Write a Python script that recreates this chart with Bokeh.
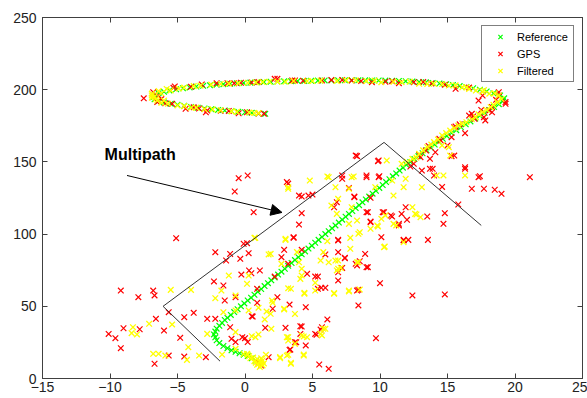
from bokeh.plotting import figure
from bokeh.models import LinearAxis, Label, Arrow, NormalHead, FixedTicker, Legend
from bokeh.embed import file_html
from bokeh.resources import INLINE

# ---------------- data ----------------
x_ticks = [-15, -10, -5, 0, 5, 10, 15, 20, 25]
y_ticks = [0, 50, 100, 150, 200, 250]

ref_x = [1.1, 0.8, 0.5, 0.2, -0.1, -0.4, -0.7, -1.0, -1.3, -1.6, -1.9, -2.1, -2.2, -2.3, -2.2, -2.1, -1.9, -1.7, -1.5,
         -1.3, -1.05, -0.8, -0.55, -0.3, -0.05, 0.2, 0.45, 0.7, 0.95, 1.2, 1.45, 1.7, 1.95, 2.2, 2.45, 2.7, 2.95, 3.2, 3.45,
         3.7, 3.95, 4.2, 4.45, 4.7, 4.95, 5.2, 5.45, 5.7, 5.95, 6.2, 6.45, 6.7, 6.95, 7.2, 7.45, 7.7, 7.95, 8.2, 8.45,
         8.7, 8.95, 9.2, 9.45, 9.7, 9.95, 10.2, 10.45, 10.7, 10.95, 11.2, 11.45, 11.7, 11.95,
         12.25, 12.55, 12.85, 13.15, 13.45, 13.75, 14.05, 14.35, 14.65, 14.95, 15.3, 15.65, 16.0, 16.35, 16.7, 17.05,
         17.4, 17.75, 18.1, 18.45, 18.8, 19.1, 19.2, 18.9, 18.4, 17.9, 17.4, 16.9, 16.4, 15.9, 15.4, 14.9, 14.4, 13.9,
         13.4, 12.9, 12.4, 11.9, 11.4, 10.9, 10.4, 9.9, 9.4, 8.9, 8.4, 7.9, 7.4, 6.9, 6.4, 5.9, 5.4, 4.9, 4.4, 3.9, 3.4,
         2.9, 2.4, 1.9, 1.4, 0.9, 0.4, -0.1, -0.6, -1.1, -1.6, -2.1, -2.6, -3.1, -3.6, -4.1, -4.6, -5.1, -5.6, -6.0,
         -6.4, -6.7, -6.8, -6.7, -6.4, -6.0, -5.5, -5.0, -4.5, -4.0, -3.5, -3.0, -2.5, -2.0, -1.5, -1.0, -0.5, 0.0, 0.5,
         1.0, 1.5]
ref_y = [11, 12.5, 14, 15.5, 16.5, 17.5, 18.5, 19.5, 21, 22.5, 24.5, 26.5, 28.5, 30.5, 32.5, 34.5, 36.5, 38.5, 40.5,
         42, 44, 46, 48, 50, 52, 54, 56, 58, 60, 62, 64, 66, 68, 70, 72, 74, 76, 78, 80,
         82, 84, 86, 88, 90, 92, 94, 96, 98, 100, 102, 104, 106, 108, 110, 112, 114, 116, 118, 120,
         122, 124, 126, 128, 130, 132, 134, 136, 138, 140, 142, 144, 146, 148,
         150, 152, 154, 156, 158, 160, 162, 164, 166, 168, 170, 172, 174, 176, 178, 180,
         182, 184, 186, 188, 190, 192, 194, 196, 197.5, 198.8, 200, 201, 201.8, 202.5, 203.2, 203.8, 204.3, 204.7,
         205.1, 205.4, 205.7, 205.9, 206.1, 206.2, 206.3, 206.4, 206.4, 206.5, 206.5, 206.5, 206.5, 206.5, 206.4, 206.4,
         206.3, 206.2, 206.1, 206, 205.9,
         205.8, 205.6, 205.5, 205.3, 205.1, 204.9, 204.7, 204.4, 204.1, 203.8, 203.5, 203.1, 202.7, 202.2, 201.6, 201,
         200.3, 199.5, 198.6,
         197.5, 196.2, 194.8, 193.4, 192.2, 191.2, 190.3, 189.5, 188.8, 188.1, 187.5, 187, 186.5, 186, 185.6, 185.2,
         184.8, 184.4, 184,
         183.6, 183.3]

gps_x = [0.64, -5.1, -0.1, 0.27, -2.2, -1.1, -1.4, -0.35, -0.27, 0.47, 1.1, -2.3, -1.6, -1.5, -0.7, 0.9, 2.4, -9.2,
         -7.9, -6.8, -6.7, -5.65, -4.5, -3.8, -6.6, -2.8, -2.2, -10.1, -9.6, -9.0, -7.8, -6.0, -4.8, -9.2, -5.65, -4.5,
         -2.9, -6.7, -1.1, -1.0, -0.7, -0.2, 0.2, 1.75, 1.5, 0.57, 2.05, 3.0, 3.3, 2.7, 3.2, 3.6,
         -0.47, 0.2, -0.76, 3.1, 4.0, -7.5,
         8.3, 9.85, 7.2, 8.1, 9.0, 9.95, 4.2, 13.7, 14.0, 15.3, 16.3, 17.4, 21.1, 16.8, 17.7, 18.5, 19.0,
         4.2, 4.0, 10.2, 10.9, 11.6, 12.0, 11.4, 13.5, 14.8, 14.7, 15.8, 9.3, 9.0, 10.1, 6.9, 5.95, 7.4, 6.9, 6.9, 8.9,
         8.5, 8.3, 9.0, 10.0, 8.4, 5.95, 5.65, 4.6, 5.4, 12.1, 11.75, 13.55, 8.4, 12.4, 14.8, 4.5, 9.7, 5.5, 6.2, 6.1,
         5.7, 5.2, 4.2, 4.5, 4.1, 3.8,
         3.3, 0.5, 0.9, 5.6, 5.3, 4.1, 3.7, 3.36, 5.4, 8.3, 0.0,
         5.0, 3.2, 6.8, 7.7, 9.3, 9.1, 9.3, 10.3, 10.8, 11.4, 11.9, 11.75, 6.9, 0.15, 2.9, 3.6, 4.2, 6.9, 7.4, 8.2, 9.1,
         0.3, 2.2, 5.2, 7.2,
         -6.8, -6.4, -6.5, -5.4, -5.2, -3.2, -2.1, -1.3, -4.4, -2.8, -0.47, 0.15, 2.4, 3.5, 5.7, -5.3, -2.9, 2.2, 3.7,
         6.4, 7.9, 9.4, 11.4, 12.5, 15.6, 17.6, 18.8, 19.3, 18.3, 17.8, 17.0, 16.3, 15.6, 15.3, 14.5, 14.1, 13.4, 13.0,
         12.5, 12.25, 17.3, 16.6,
         15.5, 16.3, 17.3, 14.6, 13.9, 13.1, 13.7, 15.0, 15.5, 16.8, 17.7, 18.1, 18.8, 19.3, 9.9, 9.0, 9.9, 8.2, 7.2,
         8.1, 4.7, 6.6,
         1.0, -1.8, -3.8, -0.3, 1.0, 8.6, 10.4, 13.8, 14.8, 16.6, 14.4, 15.9, 16.9, 18.3, 12.9, 13.6, 17.5, 18.6,
         1.2, 1.0,
         -6.2, -4.0, -0.8, 0.5, 4.3, 7.2, 10.9, 13.2, -5.9, -3.4, -1.2, 1.4]
gps_y = [115.2, 97.2, 93.3, 86.8, 87.5, 86.3, 81.7, 82.9, 72, 72.9, 74.8, 67.2, 64.4, 54, 56.3, 62.1, 56.3, 60.9,
         56.3, 60.9, 57.5, 45.9, 42.5, 45.5, 41.3, 41.3, 41.3, 30.9, 27.9, 34.8, 34.1, 33.2, 28.2, 21, 15.9, 15.2,
         14.8, 10.2, 35.5, 27.5, 25.2, 28.6, 25.2, 14.8, 35.1, 42.9, 48.3, 35.1, 19.8, 84, 79.4, 97.9,
         138.7, 140.6, 129.5, 136, 126.7, 194,
         154, 150.5, 140.6, 126, 140.6, 140.1, 126, 145.2, 140.6, 154, 146.3, 140.1, 139.4, 131.4, 131.4, 130.7, 127.9,
         114.5, 106.6, 115.2, 112.2, 114, 109.9, 106, 112.2, 114.5, 107.1, 120.5, 108.7, 115.2, 97.9, 96, 85.9, 83.3,
         67.9, 73.6, 86.3,
         81.2, 78.3, 77.1, 66, 61.4, 62.8, 62.8, 72.5, 70.6, 96, 96, 96, 50.6, 57.5, 58.2, 49.4, 27.9, 9.7, 6.7, 40.9,
         35.5, 30.9, 36, 22.9, 30.9, 25.1,
         51.2, 43.1, 52.4, 33.9, 30.3, 36.2, 25.1, 20.1, 62.1, 60.9, 27.9,
         127.4, 135, 122.1, 132, 125.1, 115.2, 108.2, 115.2, 112.9, 107.1, 118.6, 95.6, 95.6, 93.7, 89.1, 97.4, 89.1,
         87.5, 83.6, 79.4, 77.1,
         74.8, 70.6, 70.6, 76.6,
         198.3, 196, 191.4, 190.2, 202.2, 203.6, 204.5, 204.5, 186.8, 185.6, 183.7, 184.4, 207.5, 206.4, 206.4, 201.3,
         184.4, 207.5, 206.4,
         206.8, 206.4, 205.2, 204.5, 205.2, 200.6, 196, 198.3, 191.4, 184.4, 178.7, 179.8, 169.9, 174.5, 167.1, 164.8,
         156.7, 157.9, 153.3,
         148.7, 146.8, 192.5, 182.1,
         154.4, 145.2, 139.4, 132.7, 145.2, 144, 152.1, 161.4, 174, 183.3, 181, 185.6, 196, 190.2, 151, 139.4, 139.4,
         154.4, 138.3,
         125.6, 126.7, 118.6,
         183.5, 185.5, 187.8, 204.8, 205.3, 206, 205.5, 204.3, 203.5, 201.5, 166, 176, 181.5, 188, 155, 161, 186, 193,
         9, 11,
         193.5, 202, 204.4, 205, 206.2, 206.8, 205.9, 205.3, 190.6, 187, 185.3, 183.4]

filt_x = [-5.5, -4.0, -7.1, -8.3, -8.4, -8.0, -5.4, -4.2, -6.8, -6.4, -5.9, -3.4, -4.3, -2.8, -1.6, -2.2, -0.7, -0.7,
          0.27, 0.27, 0.15, -1.2, -1.75, 1.9, 2.0, 1.0, 2.9, 3.7, 0.7, 3.0, 3.4, 1.0, 0.77, -0.7, 3.2, 3.1, 2.6, 3.4,
          0.15, -1.7, -0.7, 3.7, 4.0,
          0.3, 0.6, 0.9, 1.1, 1.2, 1.3, 1.1, 0.9, 0.7, 0.4, 1.3, 1.0, 0.2, -0.1, 1.2, 1.4, 0.8,
          3.2, 4.4, 5.2, 5.2, 6.6, 7.7, 8.5, 4.1, 2.05, 1.6, 1.9, 2.9, 1.46, 1.95, 0.5, 3.1, 3.2, 4.2, 4.6, 5.95, 5.7,
          3.2, 4.35, 3.4, 2.6, 1.55,
          3.2, 6.4, 6.8, 6.9, 7.9, 8.3, 7.7, 8.5, 7.8, 9.8, 10.1, 9.65, 11.0, 11.75, 12.4, 12.6, 11.0, 10.35, 3.0, 3.85,
          5.8, 5.6, 6.1, 6.9, 7.8, 6.8, 7.1, 8.4, 1.75, 0.76, 2.7, 4.2, 4.2, 6.2,
          10.4, 11.2, 12.7, 13.0, 11.75, 10.3, 9.3, 9.85, 8.4, 6.7, 6.9, 7.7, 6.6, 4.4, 5.8, 5.6, 4.35, 4.35, 8.3,
          4.8, 6.2, 7.9, 7.7, 6.7, 10.5, 11.6, 11.9, 10.9, 13.1, 14.2, 14.7, 16.3, 15.2, 14.6, 8.05, 6.1, 15.1, 3.2,
          12.4, 12.9, 13.5, 14.0, 14.6, 15.2, 15.8, 16.4, 17.1, 17.6, 18.2, 18.7, 18.8, 18.1, 17.1, 16.1, 15.1, 14.0,
          12.9, 11.6, 10.1,
          12.0, 12.7, 13.2, 13.8, 14.3, 14.9, 15.5, 16.1, 16.8, 17.3, 17.9, 18.4, 19.0, 18.5, 17.6, 16.6, 13.5, 11.0,
          9.0, 7.5, 6.8, 5.0, 4.6, 3.0, 1.8, 0.8, -0.5, -1.8, -2.5, -3.8, -4.5, -5.8, -6.4, -6.9, -6.9, -6.6, -6.2,
          -6.0, -5.0, -4.0, -3.0, -1.8, -1.0, 0.3, 1.0,
          -6.2, -5.5, -4.9, -3.3, -1.2, 0.2, 1.3, 2.4, 3.6, 5.6, 8.2, 9.6, 12.2, 14.6, 15.6, 16.4, 17.7, -5.7, -4.5,
          -3.6, -2.4, -0.6, 0.7, -6.7, -6.5, -6.9]
filt_y = [61.4, 61.4, 37.9, 35.5, 31.4, 30.5, 37.4, 21.7, 17.1, 17.1, 15.9, 15.9, 12.9, 30.9, 45.9, 55.6, 57.5, 47.1,
          47.1, 71.3, 65.6, 71.3, 60.9, 86.3, 54, 49, 48.3, 44.7, 97.4, 96, 62.1, 30.5, 28.6, 32.1, 28.6, 15.9, 14.8,
          10.2, 17.1, 16.6, 20.6, 24, 80.5,
          15.5, 14.5, 13.5, 12, 10.5, 9, 8, 9.5, 12, 14, 12.5, 10, 16.5, 17, 14, 10.5, 11,
          62.5, 59.3, 60.9, 66.3, 58.7, 60.3, 61.6, 69, 52.4, 46.4, 44.8, 47.8, 40.9, 34.4, 29.3, 28.6, 26.3, 29.8,
          28.6, 34.4, 29.8, 16.4, 15.9, 10.9, 14.1, 16.4,
          132.5, 119.8, 114, 124.4, 118.6, 109.4, 107.1, 101.3, 97.4, 106, 110.6, 132.5, 126.7, 132.5, 118.6, 114,
          107.1, 91.4, 96.7, 87.5,
          87.5, 81.7, 95.1, 81.7, 89.8, 74.8, 76.6, 80.5, 85.9, 97.4, 79.4, 76, 71.3, 80.5,
          112.9, 106, 113.6, 111.7, 94.4, 90.9, 103.7, 105.3, 100.2, 81.7, 76, 60.9, 59.1, 58.7, 34.4, 30.9, 29.1,
          16.6, 80.5,
          137.1, 139.4, 139.4, 131.4, 132.5, 151, 148.7, 138.3, 137.1, 132.5, 140.6, 140.6, 140.6, 154.4, 161.4, 139.9,
          139.9, 160.2, 131.4,
          152.1, 155.6, 160.2, 163.7, 168.3, 171.7, 175.2, 177.5, 181, 184.4, 187.9, 191.4, 196, 197.2, 199.4, 201.7,
          202.9, 204.1, 204.1, 205.2, 205.2,
          150, 153, 158, 162, 165.5, 170, 173.5, 176.5, 179.5, 183, 186, 189.5, 193.5, 197.5, 198.5, 200.5, 204,
          205.5, 206, 206.5, 206, 206, 206, 205.5, 205.5, 205, 204.5, 204, 203.5, 202.5, 201.5, 200.5, 199, 196,
          194.5, 193.5, 191, 192.5, 189, 187.5, 186.5, 185.8, 185, 184.2, 183.8,
          197.5, 199.5, 200.8, 202.8, 204.2, 204.8, 205.3, 205.6, 206, 206.3, 206.5, 206.3, 205.6, 203.9, 203, 201.6,
          199.7, 190.3, 188.6,
          187.6, 186.4, 184.7, 183.9, 195.2, 192.5, 197.3]

# Hand-drawn "multipath" box and arrow (data coordinates)
box_x = [-1.85, -6.07, 10.3, 17.5]
box_y = [12, 50, 163.5, 106]
arrow_start = (-8.74, 140.6)
arrow_end = (2.74, 115.0)
note_pos = (-10.4, 155.0)
note_text = "Multipath"

# ---------------- figure ----------------
AX = "#404040"
FONT = "Liberation Sans"

p = figure(width=587, height=398, x_range=(-15, 25), y_range=(0, 250),
           output_backend="svg", toolbar_location=None,
           min_border_left=42, min_border_right=5, min_border_top=17, min_border_bottom=20,
           background_fill_color="white", border_fill_color="white")
p.grid.visible = False
p.outline_line_color = AX
p.outline_line_width = 1

for ax in (p.xaxis[0], p.yaxis[0]):
    ax.major_tick_in = 5
    ax.major_tick_out = 0
    ax.minor_tick_line_color = None
    ax.axis_line_color = AX
    ax.major_tick_line_color = AX
    ax.major_label_text_font = FONT
    ax.major_label_text_font_size = "14px"
    ax.major_label_text_color = "#222222"
p.xaxis[0].ticker = FixedTicker(ticks=x_ticks)
p.yaxis[0].ticker = FixedTicker(ticks=y_ticks)
p.xaxis[0].major_label_standoff = 3
p.yaxis[0].major_label_standoff = 6

top = LinearAxis(ticker=FixedTicker(ticks=x_ticks))
right = LinearAxis(ticker=FixedTicker(ticks=y_ticks))
for ax in (top, right):
    ax.major_tick_in = 5
    ax.major_tick_out = 0
    ax.minor_tick_line_color = None
    ax.axis_line_color = AX
    ax.major_tick_line_color = AX
    ax.major_label_text_font_size = "0px"
    ax.major_label_standoff = 0
    ax.major_label_text_color = None
p.add_layout(top, "above")
p.add_layout(right, "right")

r_ref = p.scatter(ref_x, ref_y, marker="x", size=8, line_color="#00ff00", line_width=1.2)
r_gps = p.scatter(gps_x, gps_y, marker="x", size=8, line_color="#ff0000", line_width=1.2)
r_flt = p.scatter(filt_x, filt_y, marker="x", size=8, line_color="#ffff00", line_width=1.3)

p.line(box_x, box_y, line_color="#333333", line_width=1)
p.add_layout(Arrow(end=NormalHead(size=11, fill_color="black", line_color="black"),
                   x_start=arrow_start[0], y_start=arrow_start[1],
                   x_end=arrow_end[0], y_end=arrow_end[1],
                   line_color="black", line_width=1))
p.add_layout(Label(x=note_pos[0], y=note_pos[1], text=note_text, text_font=FONT,
                   text_font_style="bold", text_font_size="16px", text_baseline="alphabetic",
                   text_color="black"))

legend = Legend(items=[("Reference", [r_ref]), ("GPS", [r_gps]), ("Filtered", [r_flt])],
                location="top_right")
legend.label_text_font = FONT
legend.label_text_font_size = "11px"
legend.label_text_color = "black"
legend.glyph_width = 30
legend.glyph_height = 15
legend.label_height = 15
legend.label_width = 53
legend.label_standoff = 2
legend.spacing = 2
legend.padding = 3
legend.margin = 8
legend.border_line_color = "black"
legend.border_line_width = 1
legend.background_fill_color = "white"
legend.background_fill_alpha = 1
p.add_layout(legend)

open("out.html", "w").write(file_html(p, INLINE))
